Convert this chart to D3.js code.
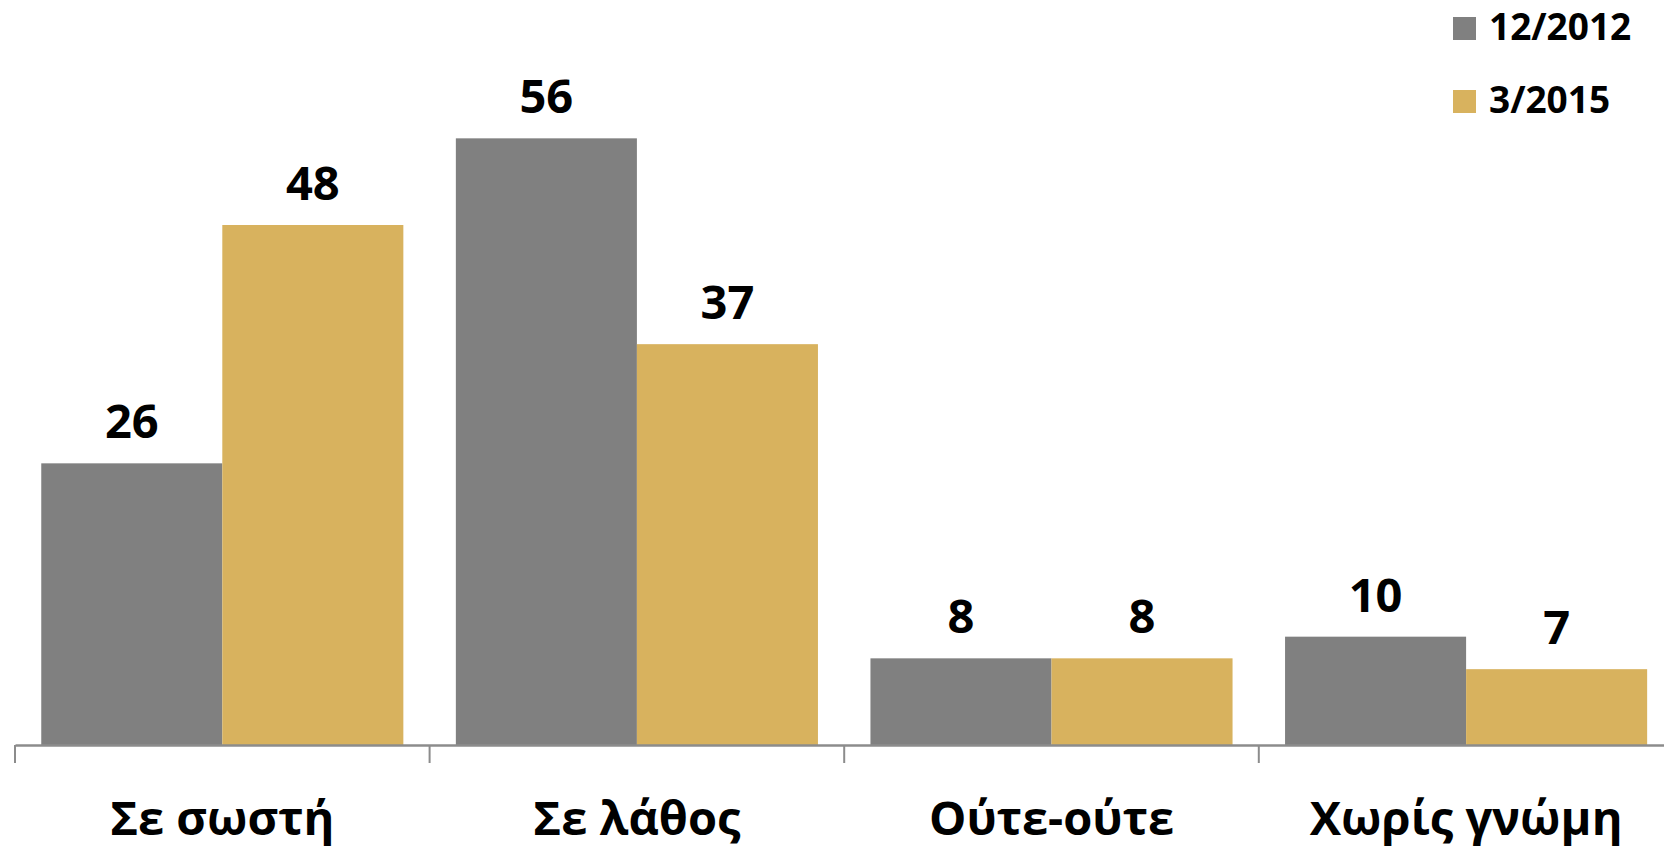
<!DOCTYPE html>
<html>
<head>
<meta charset="utf-8">
<script src="https://cdn.jsdelivr.net/npm/d3@7"></script>
<style>
  body { margin: 0; background: #fff; }
  svg text { font-family: "Open Sans", "DejaVu Sans", sans-serif; font-weight: bold; fill: #000; }
</style>
</head>
<body>
<div id="chart"></div>
<script>
// data
var categories = ["Σε σωστή", "Σε λάθος", "Ούτε-ούτε", "Χωρίς γνώμη"];
var seriesNames = ["12/2012", "3/2015"];
var values2012 = [26, 56, 8, 10];
var values2015 = [48, 37, 8, 7];
var colors = ["#808080", "#D8B25E"];

var width = 1664, height = 850;
var margin = {top: 95, left: 15, bottom: 105};
var bandW = 414.6;

var svg = d3.select("#chart").append("svg")
    .attr("width", width)
    .attr("height", height);

var x = d3.scaleBand()
    .domain(categories)
    .range([margin.left, margin.left + bandW * categories.length])
    .paddingInner(0)
    .paddingOuter(0);

var x1 = d3.scaleBand()
    .domain(seriesNames)
    .range([0, x.bandwidth()])
    .paddingInner(0)
    .paddingOuter(0.145);

var y = d3.scaleLinear()
    .domain([0, 60])
    .range([height - margin.bottom, margin.top]);

var rows = categories.map(function(c, i) {
  return {cat: c, vals: [values2012[i], values2015[i]]};
});

var groups = svg.selectAll(".grp")
    .data(rows)
  .enter().append("g")
    .attr("class", "grp")
    .attr("transform", function(d) { return "translate(" + x(d.cat) + ",0)"; });

groups.selectAll("rect")
    .data(function(d) { return d.vals.map(function(v, j) { return {s: seriesNames[j], v: v, j: j}; }); })
  .enter().append("rect")
    .attr("x", function(d) { return x1(d.s); })
    .attr("y", function(d) { return y(d.v); })
    .attr("width", x1.bandwidth())
    .attr("height", function(d) { return y(0) - y(d.v); })
    .style("fill", function(d) { return colors[d.j]; });

groups.selectAll("text.val")
    .data(function(d) { return d.vals.map(function(v, j) { return {s: seriesNames[j], v: v}; }); })
  .enter().append("text")
    .attr("class", "val")
    .attr("x", function(d) { return x1(d.s) + x1.bandwidth() / 2; })
    .attr("y", function(d) { return y(d.v) - 25; })
    .attr("text-anchor", "middle")
    .style("font-size", "47px")
    .text(function(d) { return d.v; });

// axis
var axis = d3.axisBottom(x).tickSize(0).tickFormat("");
var gx = svg.append("g")
    .attr("transform", "translate(0," + y(0) + ")")
    .call(axis);
gx.select(".domain").attr("stroke", "#8c8c8c").attr("stroke-width", 2.5);

// tick marks at band edges
svg.selectAll("line.tick")
    .data(categories)
  .enter().append("line")
    .attr("class", "tick")
    .attr("x1", function(d) { return x(d); })
    .attr("x2", function(d) { return x(d); })
    .attr("y1", y(0))
    .attr("y2", y(0) + 18)
    .attr("stroke", "#8c8c8c")
    .attr("stroke-width", 2);

svg.selectAll("text.cat")
    .data(categories)
  .enter().append("text")
    .attr("class", "cat")
    .attr("x", function(d) { return x(d) + x.bandwidth() / 2; })
    .attr("y", 835)
    .attr("text-anchor", "middle")
    .style("font-size", "47px")
    .text(function(d) { return d; });

// legend
var legend = svg.selectAll(".leg")
    .data(seriesNames)
  .enter().append("g")
    .attr("class", "leg")
    .attr("transform", function(d, i) { return "translate(1453," + (17 + i * 73) + ")"; });

legend.append("rect")
    .attr("width", 23)
    .attr("height", 23)
    .style("fill", function(d, i) { return colors[i]; });

legend.append("text")
    .attr("x", 36)
    .attr("y", 23)
    .style("font-size", "37px")
    .text(function(d) { return d; });
</script>
</body>
</html>
